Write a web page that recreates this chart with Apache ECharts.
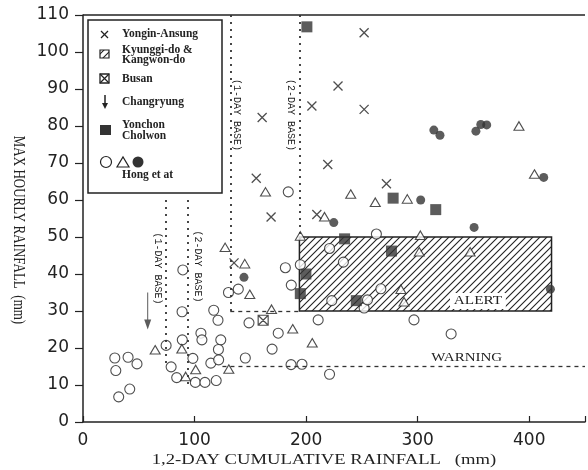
<!DOCTYPE html>
<html><head><meta charset="utf-8">
<script src="https://cdn.jsdelivr.net/npm/echarts@6/dist/echarts.min.js"></script>
<style>html,body{margin:0;padding:0;background:#fff}#c{width:588px;height:470px}</style>
</head><body><div id="c"></div>
<script>
// ---- data ----
const xTicks = [0, 100, 200, 300, 400];
const yTicks = [0, 10, 20, 30, 40, 50, 60, 70, 80, 90, 100, 110];

const hongOpenCircle = [
  [28.5,17.3],[40.4,17.5],[48.4,15.7],[29.4,13.9],[41.9,8.9],[32,6.8],
  [74.5,20.7],[79,14.9],[84,12],[88.8,29.8],[89.5,41.1],[89,22.2],[98.5,17.2],
  [100.7,10.7],[109.3,10.7],[119.4,11.2],[105.7,24],[106.6,22.2],[117.2,30.2],
  [121,27.5],[123.5,22.2],[121.4,19.6],[114.6,15.9],[121.6,16.8],[145.5,17.3],
  [130.4,35],[139.2,35.9],[148.8,26.8],[169.5,19.7],[175,24],[181.4,41.7],
  [186.7,37],[184,62.2],[186.5,15.5],[196.3,15.6],[194.8,42.5],[210.8,27.6],
  [221,12.9],[221,46.9],[223,32.8],[233.4,43.2],[252,30.8],[255,33],[263,50.8],
  [267,36],[296.7,27.6],[330,23.8]
];
const hongTriangle = [
  [64.7,19.5],[88.6,19.8],[92,12.3],[101,14.2],[127.4,47.2],[145,42.8],[149.5,34.5],
  [130.7,14.3],[169,30.5],[188,25.2],[163.6,62.2],[205.5,21.4],[216.5,55.5],
  [194.8,50.3],[240,61.6],[262,59.4],[290.7,60.3],[302.4,50.5],[301.4,46],[347,46],
  [285,35.9],[287.8,32.5],[390.8,80],[404.7,67]
];
const hongFilled = [
  [144.3,39.1],[224.8,53.9],[302.7,60],[314.5,78.9],[320,77.5],[352.2,78.6],
  [356.6,80.4],[361.9,80.3],[413,66.1],[350.6,52.6],[419,35.9]
];
const yonginAnsung = [
  [135.4,43],[155.3,65.9],[160.6,82.3],[168.6,55.4],[205.2,85.4],[209.6,56.1],
  [219.4,69.6],[228.6,90.8],[252,105.2],[252,84.5],[272,64.4]
];
const yonchonCholwon = [
  [200.7,106.8],[234.5,49.5],[276.5,46.2],[278,60.5],[316.2,57.4],[199.8,40],
  [194.8,34.7],[245,32.8]
];
const busan = [[161.5,27.5]];
const changryung = [[58,30]];

// thresholds
const oneDayLow = 74, twoDayLow = 94, oneDayHigh = 132, twoDayHigh = 194;
const alertBox = [[194, 30], [420, 50]];
const warningLevel = 15, warningStart = 125;

// ---- styling ----
const INK = '#222';
function makeHatch() {
  const s = 7, c = document.createElement('canvas');
  c.width = s; c.height = s;
  const g = c.getContext('2d');
  g.fillStyle = '#fff'; g.fillRect(0, 0, s, s);
  g.strokeStyle = '#222'; g.lineWidth = 1.1;
  g.beginPath();
  g.moveTo(0, s); g.lineTo(s, 0);
  g.moveTo(-1, 1); g.lineTo(1, -1);
  g.moveTo(s - 1, s + 1); g.lineTo(s + 1, s - 1);
  g.stroke();
  return c;
}
const hatch = { image: makeHatch(), repeat: 'repeat' };

const dotted = { type: [2, 5], width: 1.8, color: '#333' };
const dashed = { type: [4, 4], width: 1.3, color: '#333' };
const solid = { type: 'solid', width: 1.5, color: INK };
function vline(x, y0, y1, st) { return [{ coord: [x, y0], lineStyle: st }, { coord: [x, y1] }]; }
function hline(y, x0, x1, st) { return [{ coord: [x0, y], lineStyle: st }, { coord: [x1, y] }]; }

const openStyle = { color: '#fff', borderColor: INK, borderWidth: 1.1 };
const chart = echarts.init(document.getElementById('c'), null, { renderer: 'canvas' });

const option = {
  animation: false,
  backgroundColor: '#fff',
  grid: { left: 83, right: 0, top: 15, bottom: 48, show: false },
  xAxis: {
    type: 'value', min: 0, max: 450, interval: 100,
    axisLine: { lineStyle: { color: INK, width: 1.5 } },
    axisTick: { inside: true, length: 6, lineStyle: { color: INK, width: 1.2 } },
    axisLabel: { margin: 10, color: INK, fontFamily: 'DejaVu Sans', fontSize: 17,
      formatter: v => (xTicks.indexOf(v) >= 0 ? String(v) : '') },
    splitLine: { show: false }
  },
  yAxis: {
    type: 'value', min: 0, max: 110, interval: 10,
    axisLine: { lineStyle: { color: INK, width: 1.5 } },
    axisTick: { inside: false, length: 8, lineStyle: { color: INK, width: 1.2 } },
    axisLabel: { margin: 14, color: INK, fontFamily: 'DejaVu Sans', fontSize: 17,
      formatter: v => (yTicks.indexOf(v) >= 0 ? String(v) : '') },
    splitLine: { show: false }
  },
  series: [
    {
      type: 'scatter', data: [], z: 1, silent: true,
      markArea: {
        silent: true,
        itemStyle: { color: hatch, borderColor: INK, borderWidth: 1.5, opacity: 1 },
        label: { show: false },
        data: [[{ coord: alertBox[0] }, { coord: alertBox[1] }]]
      },
      markLine: {
        silent: true, symbol: 'none', label: { show: false },
        data: [
          hline(110, 0, 450, solid),
          vline(oneDayLow, 60, 15, dotted),
          vline(twoDayLow, 60, 10, dotted),
          vline(oneDayHigh, 110, 30, dotted),
          hline(30, oneDayHigh, twoDayHigh, dashed),
          vline(twoDayHigh, 110, 50, dotted),
          hline(warningLevel, warningStart, 450, dashed)
        ]
      }
    },
    { name: 'Hong circle', type: 'scatter', z: 3, symbol: 'circle', symbolSize: 10, itemStyle: openStyle, data: hongOpenCircle },
    { name: 'Hong triangle', type: 'scatter', z: 3, symbol: 'triangle', symbolSize: [10, 8.5], itemStyle: openStyle, data: hongTriangle },
    { name: 'Hong filled', type: 'scatter', z: 4, symbol: 'circle', symbolSize: 9, itemStyle: { color: '#333' }, data: hongFilled },
    { name: 'Yonchon Cholwon', type: 'scatter', z: 4, symbol: 'rect', symbolSize: 11, itemStyle: { color: '#333' }, data: yonchonCholwon },
    { name: 'Busan', type: 'scatter', z: 4, symbol: 'path://M0,0L10,0L10,10L0,10ZM0,0L10,10M10,0L0,10', symbolSize: 10,
      itemStyle: { color: '#fff', borderColor: INK, borderWidth: 1.2 }, data: busan },
    { name: 'Yongin-Ansung', type: 'scatter', z: 4, symbol: 'path://M0,0L10,10M10,0L0,10', symbolSize: 9,
      itemStyle: { color: 'rgba(0,0,0,0)', borderColor: INK, borderWidth: 1.3 }, data: yonginAnsung },
    { name: 'Changryung', type: 'scatter', z: 4, symbol: 'path://M3,0L4,0L4,27L7,27L3.5,37L0,27L3,27Z', symbolSize: [7, 37],
      itemStyle: { color: '#333' }, data: changryung }
  ]
};
chart.setOption(option);

// ---- annotations ----
function px(p) { return chart.convertToPixel({ gridIndex: 0 }, p); }
function text(x, y, t, font, o) {
  o = o || {};
  return {
    type: 'text', x: x, y: y, z: 100, rotation: o.rotation || 0,
    scaleX: o.scaleX || 1, scaleY: o.scaleY || 1, silent: true,
    style: Object.assign({
      text: t, font: font, fill: INK,
      textAlign: o.align || 'center', textVerticalAlign: 'middle',
      align: o.align || 'center', verticalAlign: 'middle'
    }, o.style || {})
  };
}
const SERIF = '"Liberation Serif", serif';
const MONO = '"Liberation Mono", monospace';
const LEG = 'bold 11.5px ' + SERIF;
const g = [];

// axis titles
g.push(text(18, 230, 'MAX HOURLY RAINFALL  (mm)', '13px ' + SERIF, { rotation: -Math.PI / 2, scaleY: 1.3 }));
g.push(text(324, 460, '1,2-DAY CUMULATIVE RAINFALL   (mm)', '14px ' + SERIF, { scaleX: 1.33 }));

// base labels
const rot = -Math.PI / 2;
let p = px([oneDayHigh, 83]);
g.push(text(p[0] + 7, p[1], '(1-DAY BASE)', '10px ' + MONO, { rotation: rot, scaleY: 1.15 }));
p = px([twoDayHigh, 83]);
g.push(text(p[0] - 8, p[1], '(2-DAY BASE)', '10px ' + MONO, { rotation: rot, scaleY: 1.15 }));
p = px([oneDayLow, 41.5]);
g.push(text(p[0] - 8, p[1], '(1-DAY BASE)', '10px ' + MONO, { rotation: rot, scaleY: 1.15 }));
p = px([twoDayLow, 42]);
g.push(text(p[0] + 10, p[1], '(2-DAY BASE)', '10px ' + MONO, { rotation: rot, scaleY: 1.15 }));

// ALERT / WARNING
p = px([354, 32.7]);
g.push(text(p[0], p[1], 'ALERT', '12px ' + SERIF, { scaleX: 1.27, style: { backgroundColor: '#fff', padding: [2, 3] } }));
p = px([344, 17.3]);
g.push(text(p[0], p[1], 'WARNING', '12px ' + SERIF, { scaleX: 1.25 }));

// legend box
g.push({ type: 'rect', z: 90, silent: true, shape: { x: 88, y: 20, width: 134, height: 173 },
  style: { fill: '#fff', stroke: INK, lineWidth: 1.5 } });
// Yongin-Ansung
g.push({ type: 'line', z: 101, shape: { x1: 101, y1: 31, x2: 108, y2: 38 }, style: { stroke: INK, lineWidth: 1.3 } });
g.push({ type: 'line', z: 101, shape: { x1: 108, y1: 31, x2: 101, y2: 38 }, style: { stroke: INK, lineWidth: 1.3 } });
g.push(text(122, 34, 'Yongin-Ansung', LEG, { align: 'left' }));
// Kyunggi-do & Kangwon-do
g.push({ type: 'rect', z: 101, shape: { x: 100, y: 50, width: 9, height: 8 }, style: { fill: hatch, stroke: INK, lineWidth: 1.2 } });
g.push(text(122, 50, 'Kyunggi-do &', LEG, { align: 'left' }));
g.push(text(122, 60.5, 'Kangwon-do', LEG, { align: 'left' }));
// Busan
g.push({ type: 'rect', z: 101, shape: { x: 100, y: 74, width: 9, height: 9 }, style: { fill: '#fff', stroke: INK, lineWidth: 1.3 } });
g.push({ type: 'line', z: 101, shape: { x1: 100, y1: 74, x2: 109, y2: 83 }, style: { stroke: INK, lineWidth: 1.2 } });
g.push({ type: 'line', z: 101, shape: { x1: 109, y1: 74, x2: 100, y2: 83 }, style: { stroke: INK, lineWidth: 1.2 } });
g.push(text(122, 79, 'Busan', LEG, { align: 'left' }));
// Changryung
g.push({ type: 'line', z: 101, shape: { x1: 105, y1: 95, x2: 105, y2: 104 }, style: { stroke: INK, lineWidth: 1.5 } });
g.push({ type: 'polygon', z: 101, shape: { points: [[102, 103], [108, 103], [105, 109]] }, style: { fill: INK } });
g.push(text(122, 102, 'Changryung', LEG, { align: 'left' }));
// Yonchon Cholwon
g.push({ type: 'rect', z: 101, shape: { x: 100, y: 125, width: 11, height: 10 }, style: { fill: '#333' } });
g.push(text(122, 125, 'Yonchon', LEG, { align: 'left' }));
g.push(text(122, 136, 'Cholwon', LEG, { align: 'left' }));
// Hong et al
g.push({ type: 'circle', z: 101, shape: { cx: 106, cy: 162, r: 5.5 }, style: { fill: '#fff', stroke: INK, lineWidth: 1.2 } });
g.push({ type: 'polygon', z: 101, shape: { points: [[117, 167], [129, 167], [123, 157]] }, style: { fill: '#fff', stroke: INK, lineWidth: 1.2 } });
g.push({ type: 'circle', z: 101, shape: { cx: 138, cy: 162, r: 5.5 }, style: { fill: '#333' } });
g.push(text(122, 175, 'Hong et at', LEG, { align: 'left' }));

chart.setOption({ graphic: { elements: g } });
</script>
</body></html>
